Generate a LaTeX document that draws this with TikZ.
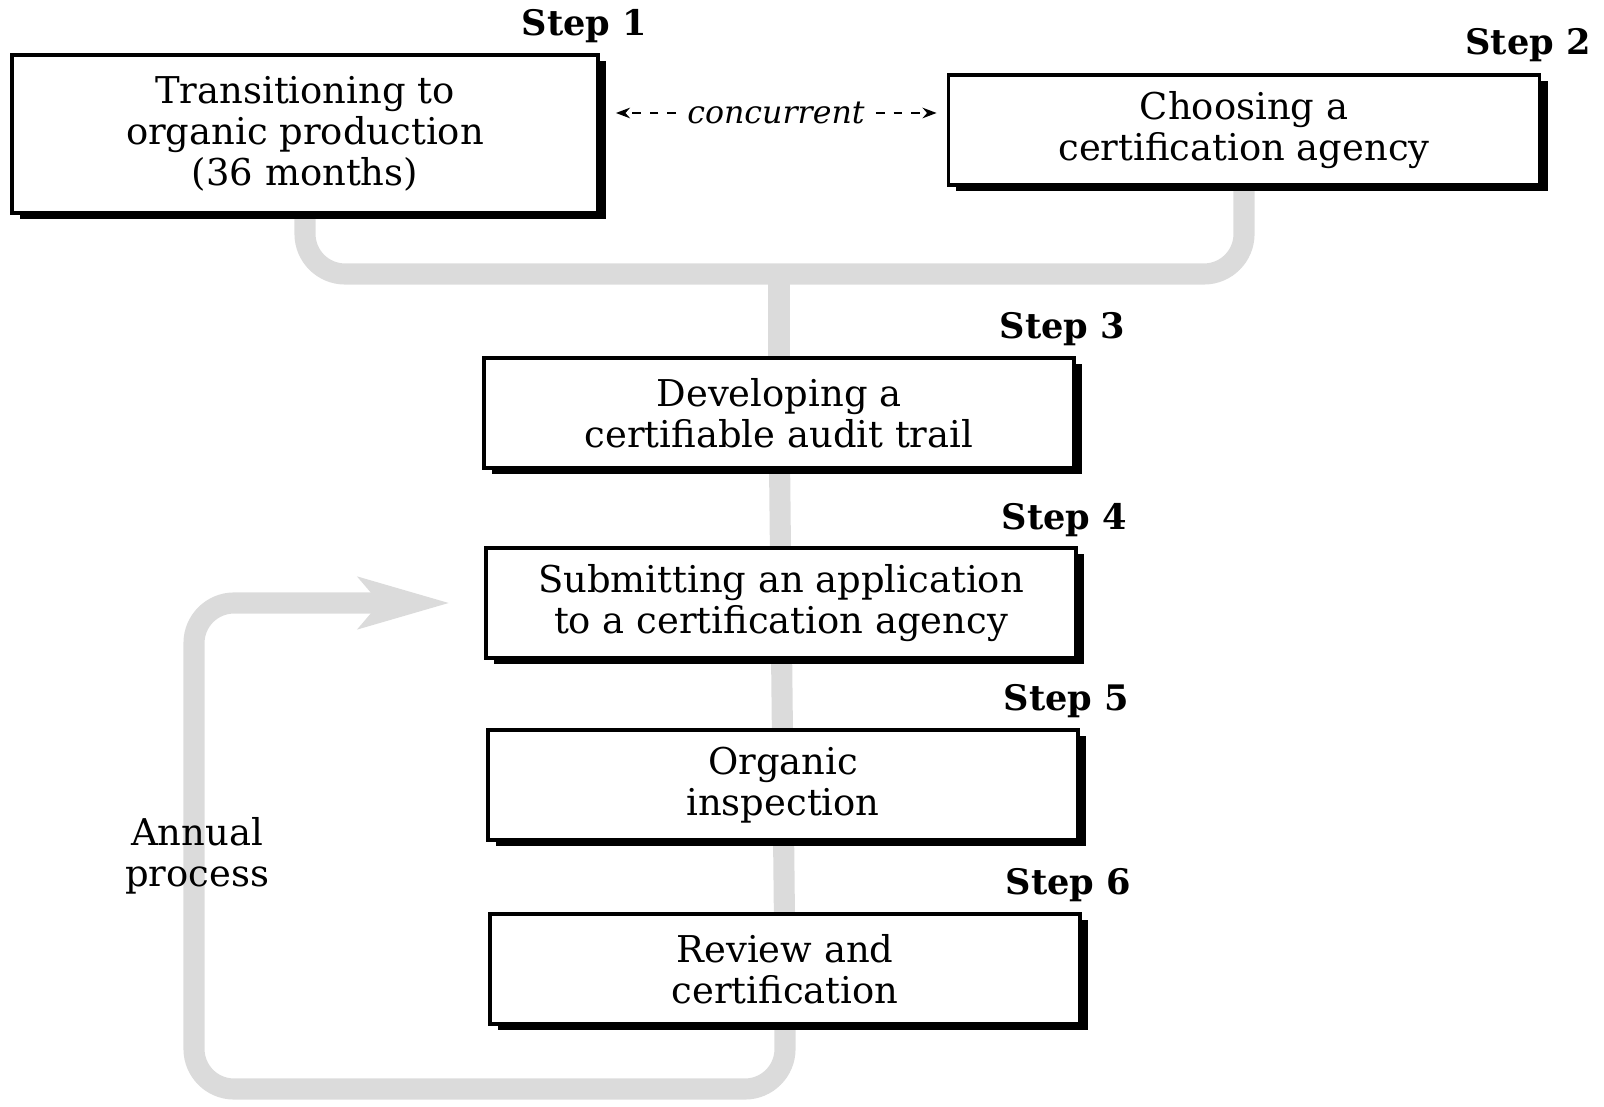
\documentclass[tikz,border=0pt]{standalone}
\usepackage{fontspec}
\setmainfont{DejaVu Serif}
\usetikzlibrary{shadows, arrows.meta, calc, backgrounds}

\begin{document}
\begin{tikzpicture}[x=0.01cm, y=-0.01cm]
\tikzstyle{stage} = [draw, line width=1pt, fill=white, align=center, minimum width=5.9cm, minimum height=1.1cm, font=\fontsize{10.5}{11.7}\selectfont, drop shadow={shadow xshift=0.08cm, shadow yshift=-0.06cm, fill=black, opacity=1}]
\tikzstyle{steplabel} = [anchor=east, inner sep=0pt, font=\fontsize{10}{12}\selectfont\bfseries]
\tikzstyle{feed} = [line width=6pt, black!14, rounded corners=0.4cm]
\tikzstyle{concarrow} = [line width=0.6pt, dash pattern=on 2.5pt off 2.5pt, -{Stealth[length=4pt,width=3pt]}]

\useasboundingbox (0,0) rectangle (1604,1107);

%The six boxes, one for each step
\node[stage, minimum width=5.86cm, minimum height=1.58cm] (b1) at (305,134) {Transitioning to\\organic production\\(36 months)};
\node[stage, minimum width=5.91cm] (b2) at (1244,130) {Choosing a\\certification agency};
\node[stage] (b3) at (779,413) {Developing a\\certifiable audit trail};
\node[stage] (b4) at (781,603) {Submitting an application\\to a certification agency};
\node[stage] (b5) at (783,785) {Organic\\inspection};
\node[stage] (b6) at (785,969) {Review and\\certification};

%Step numbers above the right end of each box
\node[steplabel] (s1) at ($(b1.north east)+(48,-27)$) {Step 1};
\node[steplabel] (s2) at ($(b2.north east)+(50,-28)$) {Step 2};
\node[steplabel] (s3) at ($(b3.north east)+(50,-27)$) {Step 3};
\node[steplabel] (s4) at ($(b4.north east)+(50,-26)$) {Step 4};
\node[steplabel] (s5) at ($(b5.north east)+(50,-27)$) {Step 5};
\node[steplabel] (s6) at ($(b6.north east)+(50,-27)$) {Step 6};

%Steps 1 and 2 run side by side
\node[inner sep=3pt, font=\fontsize{9}{11}\selectfont\itshape] (conc) at (776,113) {concurrent};
 \draw[concarrow] (conc.west) -- ($(b1.east |- conc.west)+(16,0)$);
 \draw[concarrow] (conc.east) -- ($(b2.west |- conc.east)+(-10,0)$);

%Annual loop text
\node[align=center, font=\fontsize{10.5}{11.7}\selectfont] (annual) at (197,856) {Annual\\process};

%Grey flow lines behind the boxes
\begin{scope}[on background layer]
\coordinate (hub) at (779,274);
\coordinate (loopcorner) at (194,1089);
\coordinate (loopend) at (450,603);
 \draw[feed] (b1.south) |- (hub) -| (b2.south);
 \draw[feed] (hub) -- (b3.north);
 \draw[feed] (b3) -- (b4);
 \draw[feed] (b4) -- (b5);
 \draw[feed] (b5) -- (b6);
 \draw[feed, -{Stealth[length=0.9cm, width=0.5cm, inset=0.2cm]}] (b6.south) |- (loopcorner) |- (loopend);
\end{scope}

\end{tikzpicture}
\end{document}
